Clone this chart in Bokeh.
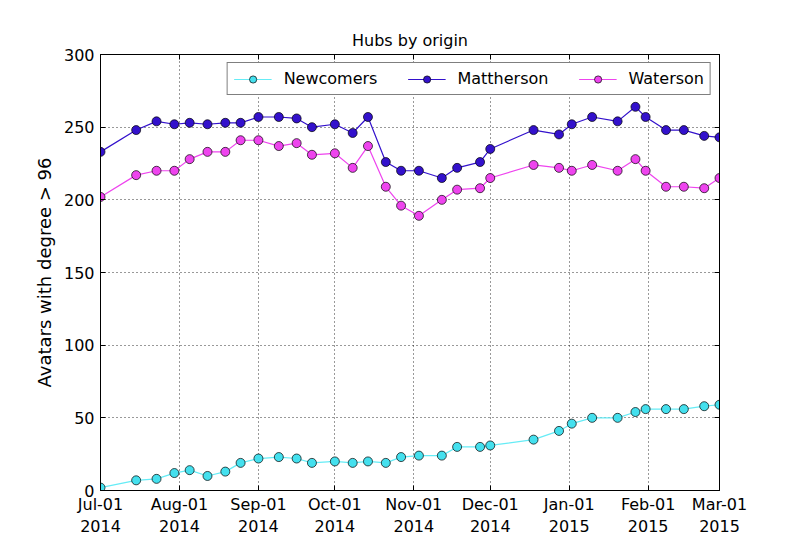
import pandas as pd
from bokeh.plotting import figure
from bokeh.models import (DatetimeTickFormatter, FixedTicker, LinearAxis, DatetimeAxis,
                          Range1d, Legend, CustomJSTickFormatter)
from bokeh.embed import file_html
from bokeh.resources import INLINE

dates = ["2014-07-01", "2014-07-15", "2014-07-23", "2014-07-30", "2014-08-05", "2014-08-12",
         "2014-08-19", "2014-08-25", "2014-09-01", "2014-09-09", "2014-09-16", "2014-09-22",
         "2014-10-01", "2014-10-08", "2014-10-14", "2014-10-21", "2014-10-27", "2014-11-03",
         "2014-11-12", "2014-11-18", "2014-11-27", "2014-12-01", "2014-12-18", "2014-12-28",
         "2015-01-02", "2015-01-10", "2015-01-20", "2015-01-27", "2015-01-31", "2015-02-08",
         "2015-02-15", "2015-02-23", "2015-03-01"]

newcomers = [2, 7, 8, 12, 14, 10, 13, 19, 22, 23, 22, 19,
             20, 19, 20, 19, 23, 24, 24, 30, 30, 31, 35, 41,
             46, 50, 50, 54, 56, 56, 56, 58, 59]

mattherson = [233, 248, 254, 252, 253, 252, 253, 253, 257, 257, 256, 250,
              252, 246, 257, 226, 220, 220, 215, 222, 226, 235, 248, 245,
              252, 257, 254, 264, 257, 248, 248, 244, 243]

waterson = [202, 217, 220, 220, 228, 233, 233, 241, 241, 237, 239, 231,
            232, 222, 237, 209, 196, 189, 200, 207, 208, 215, 224, 222,
            220, 224, 220, 228, 220, 209, 209, 208, 215]

month_ticks = ["2014-07-01", "2014-08-01", "2014-09-01", "2014-10-01", "2014-11-01",
               "2014-12-01", "2015-01-01", "2015-02-01", "2015-03-01"]
y_ticks = [0, 50, 100, 150, 200, 250, 300]

series = [
    ("Newcomers", newcomers, "#66ECF6", "#44E0EE"),
    ("Mattherson", mattherson, "#3311CC", "#3311CC"),
    ("Waterson", waterson, "#EE44EE", "#EE44EE"),
]

FONT = "DejaVu Sans"
x = pd.to_datetime(dates)
xt = [pd.Timestamp(d).value / 1e6 for d in month_ticks]

p = figure(width=792, height=539, x_axis_type="datetime", output_backend="svg",
           toolbar_location=None,
           x_range=Range1d(pd.Timestamp(month_ticks[0]), pd.Timestamp(month_ticks[-1])),
           y_range=Range1d(0, 300),
           min_border_left=100, min_border_right=73, min_border_top=54, min_border_bottom=48)

p.title.text = "Hubs by origin"
p.title.align = "center"
p.title.text_font = FONT
p.title.text_font_size = "16px"
p.title.text_font_style = "normal"
p.title.text_color = "black"

fmt = "%b-%d\n%Y"
formatter = DatetimeTickFormatter(microseconds=fmt, milliseconds=fmt, seconds=fmt, minsec=fmt,
                                  minutes=fmt, hourmin=fmt, hours=fmt, days=fmt, months=fmt,
                                  years=fmt, context=None)

xa = p.xaxis[0]
xa.ticker = FixedTicker(ticks=xt)
xa.formatter = formatter
ya = p.yaxis[0]
ya.ticker = FixedTicker(ticks=y_ticks)
ya.axis_label = "Avatars with degree > 96"

for ax in (xa, ya):
    ax.major_label_text_font = FONT
    ax.major_label_text_font_size = "16px"
    ax.major_label_text_color = "black"
    ax.major_tick_in = 5
    ax.major_tick_out = 0
    ax.minor_tick_in = 0
    ax.minor_tick_out = 0
    ax.axis_line_color = "black"
    ax.major_tick_line_color = "black"
    ax.major_label_standoff = 6
xa.major_label_standoff = 4
ya.axis_label_text_font = FONT
ya.axis_label_text_font_size = "18px"
ya.axis_label_text_font_style = "normal"
ya.axis_label_text_color = "black"
ya.axis_label_standoff = 6

blank = CustomJSTickFormatter(code="return ''")
top = DatetimeAxis(ticker=FixedTicker(ticks=xt), formatter=blank,
                   major_tick_in=5, major_tick_out=0, minor_tick_in=0, minor_tick_out=0,
                   major_label_standoff=0, axis_line_color="black")
right = LinearAxis(ticker=FixedTicker(ticks=y_ticks), formatter=blank,
                   major_tick_in=5, major_tick_out=0, minor_tick_in=0, minor_tick_out=0,
                   major_label_standoff=0, axis_line_color="black")
p.add_layout(top, "above")
p.add_layout(right, "right")

for g in (p.xgrid[0], p.ygrid[0]):
    g.grid_line_color = "black"
    g.grid_line_dash = "1 3"
    g.grid_line_width = 1
    g.grid_line_alpha = 0.8
p.xgrid[0].ticker = FixedTicker(ticks=xt)
p.ygrid[0].ticker = FixedTicker(ticks=y_ticks)

p.outline_line_color = "black"
p.outline_line_width = 1
p.background_fill_color = "white"
p.border_fill_color = "white"

items = []
for name, vals, lc, fc in series:
    r1 = p.line(x, vals, line_color=lc, line_width=1.2)
    r2 = p.scatter(x, vals, size=9, fill_color=fc, line_color="black", line_width=0.7)
    items.append((name, [r1, r2]))

legend = Legend(items=items, orientation="horizontal", location="top_right",
                label_text_font=FONT, label_text_font_size="16px", label_text_color="black",
                border_line_color="black", border_line_width=1, background_fill_alpha=1,
                glyph_width=38, glyph_height=18, label_standoff=12, spacing=30,
                padding=6, margin=8, label_height=18)
p.add_layout(legend, "center")

open("out.html", "w").write(file_html(p, INLINE))
